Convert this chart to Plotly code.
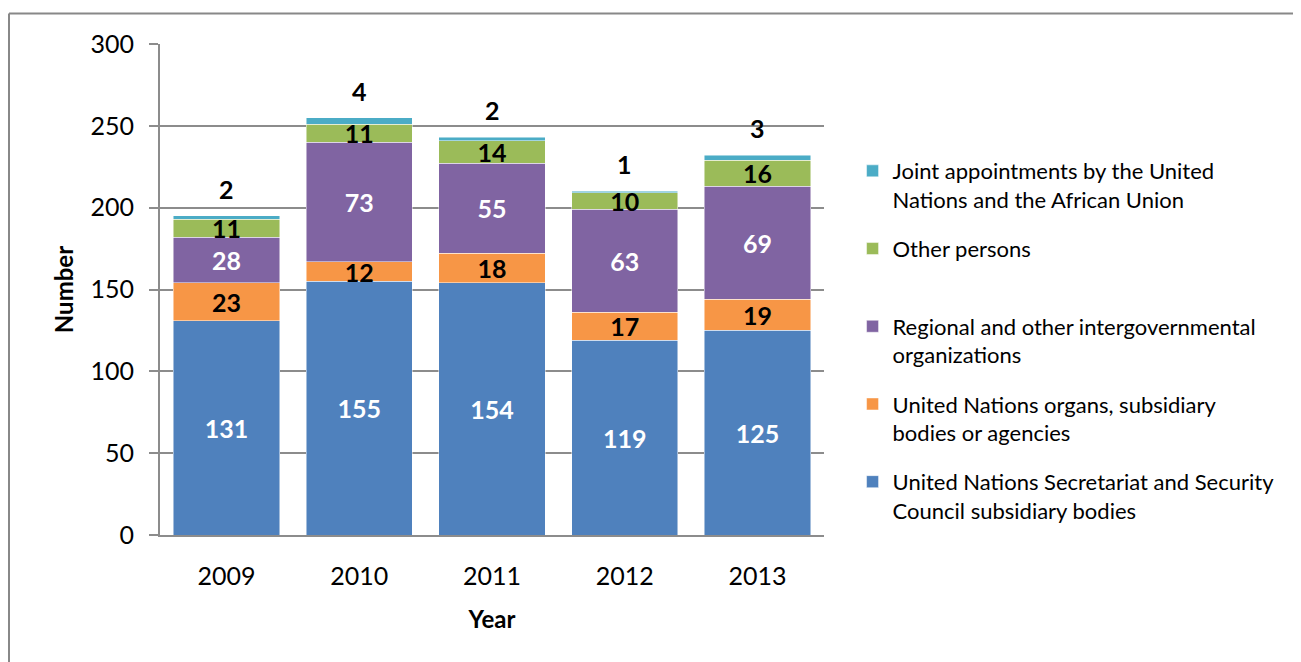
import plotly.graph_objects as go

years = ["2009", "2010", "2011", "2012", "2013"]
secretariat = [131, 155, 154, 119, 125]
un_organs = [23, 12, 18, 17, 19]
regional = [28, 73, 55, 63, 69]
other = [11, 11, 14, 10, 16]
joint = [2, 4, 2, 1, 3]

series = [
    ("United Nations Secretariat and Security<br>Council subsidiary bodies", secretariat, "#4F81BD", "white"),
    ("United Nations organs, subsidiary<br>bodies or agencies", un_organs, "#F79646", "black"),
    ("Regional and other intergovernmental<br>organizations", regional, "#8064A2", "white"),
    ("Other persons<br> ", other, "#9BBB59", "black"),
    ("Joint appointments by the United<br>Nations and the African Union", joint, "#4BACC6", "black"),
]

FONT = "Lato"
fig = go.Figure()
for i, (name, vals, color, tcolor) in enumerate(series):
    is_top = i == len(series) - 1
    fig.add_trace(go.Bar(
        x=years, y=vals, name=name,
        marker=dict(color=color, line=dict(color="rgba(255,255,255,0.6)", width=0.8)),
        text=None if is_top else [str(v) for v in vals],
        textposition="inside", insidetextanchor="middle", textangle=0,
        constraintext="none",
        textfont=dict(family=FONT, size=25, color=tcolor, weight="bold"),
        legendgroup=f"g{i}", legendrank=1000 - i,
    ))

totals = [a + b + c + d + e for a, b, c, d, e in zip(secretariat, un_organs, regional, other, joint)]
for idx, (tot, j) in enumerate(zip(totals, joint)):
    fig.add_annotation(x=idx, y=tot, text=str(j), showarrow=False, yanchor="bottom", yshift=10,
                       font=dict(family=FONT, size=25, color="black", weight="bold"))

# outer chart border (top and left visible)
fig.add_shape(type="line", xref="paper", yref="paper", x0=-0.2274, x1=2, y0=1.062, y1=1.062,
              line=dict(color="#888888", width=2))
fig.add_shape(type="line", xref="paper", yref="paper", x0=-0.2274, x1=-0.2274, y0=-1, y1=1.062,
              line=dict(color="#888888", width=2))

fig.update_layout(
    barmode="stack", bargap=0.2,
    width=1293, height=654,
    margin=dict(l=152, r=477, t=36, b=127),
    paper_bgcolor="white", plot_bgcolor="white",
    font=dict(family=FONT, color="black"),
    showlegend=True,
    legend=dict(traceorder="grouped", tracegroupgap=17.5, valign="top",
                x=1.043, xanchor="left", y=0.784, yanchor="top",
                font=dict(family=FONT, size=22, color="black"),
                bgcolor="rgba(0,0,0,0)"),
    xaxis=dict(type="category", range=[-0.5, 4.5], showline=True, linecolor="#8c8c8c", linewidth=2, ticks="",
               tickfont=dict(family=FONT, size=25), ticklabelstandoff=18,
               title=dict(text="<b>Year</b>", font=dict(family=FONT, size=24), standoff=22)),
    yaxis=dict(range=[0, 300], dtick=50, showgrid=True, gridcolor="#8c8c8c", gridwidth=1.5,
               showline=True, linecolor="#8c8c8c", linewidth=2, ticks="outside", ticklen=9,
               tickcolor="#8c8c8c", tickwidth=1.5, zeroline=False,
               tickfont=dict(family=FONT, size=25), ticklabelstandoff=10,
               title=dict(text="<b>Number</b>", font=dict(family=FONT, size=24), standoff=10)),
)

fig.write_html("out.html")
